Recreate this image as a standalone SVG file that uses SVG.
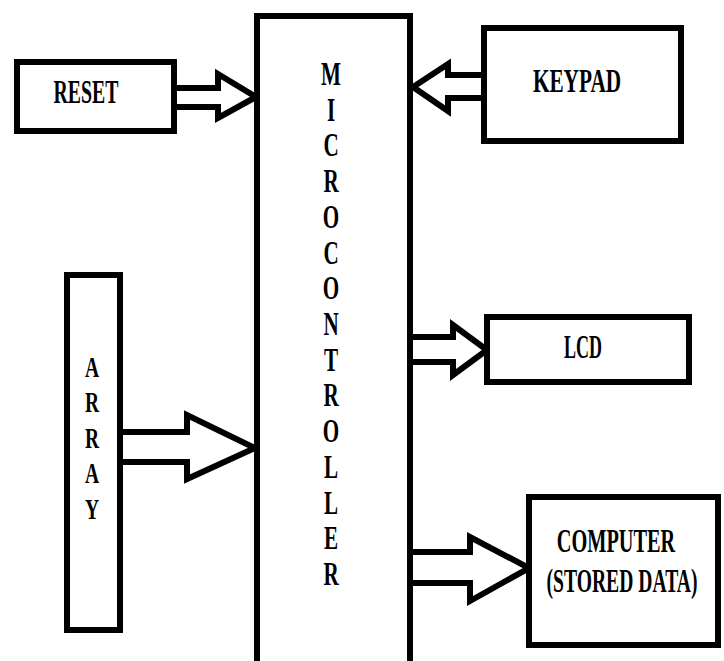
<svg xmlns="http://www.w3.org/2000/svg" width="724" height="661" viewBox="0 0 724 661">
<style>
.box{fill:#fff;stroke:#000;stroke-width:6}
.arr{fill:#fff;stroke:#000;stroke-width:6;stroke-linejoin:miter;stroke-miterlimit:10}
.t{font-family:'Liberation Serif','DejaVu Serif','Times New Roman',serif;font-weight:700;font-size:33px;fill:#000;text-anchor:middle}
.a{font-size:30px}
</style>
<rect width="724" height="661" fill="#fff"/>
<g id="connectors">
<polygon class="arr" points="170,88 218,88 218,74 256,97 218,118 218,107 170,107"/>
<polygon class="arr" points="490,75 448,75 448,64 413,87 448,111 448,98 490,98"/>
<polygon class="arr" points="115,432 187,432 187,415 255,448 187,479 187,462 115,462"/>
<polygon class="arr" points="405,337 453,337 453,325 487,350 453,375 453,362 405,362"/>
<polygon class="arr" points="405,552 470,552 470,537 529,568 470,601 470,583 405,583"/>
</g>
<g id="mcu">
<rect class="box" x="257" y="16" width="153" height="680"/>
<text class="t" transform="translate(331,85) scale(0.64,1)">M</text>
<text class="t" transform="translate(331,121) scale(0.64,1)">I</text>
<text class="t" transform="translate(331,156) scale(0.64,1)">C</text>
<text class="t" transform="translate(331,192) scale(0.64,1)">R</text>
<text class="t" transform="translate(331,228) scale(0.64,1)">O</text>
<text class="t" transform="translate(331,264) scale(0.64,1)">C</text>
<text class="t" transform="translate(331,299) scale(0.64,1)">O</text>
<text class="t" transform="translate(331,335) scale(0.64,1)">N</text>
<text class="t" transform="translate(331,371) scale(0.64,1)">T</text>
<text class="t" transform="translate(331,406) scale(0.64,1)">R</text>
<text class="t" transform="translate(331,442) scale(0.64,1)">O</text>
<text class="t" transform="translate(331,478) scale(0.64,1)">L</text>
<text class="t" transform="translate(331,514) scale(0.64,1)">L</text>
<text class="t" transform="translate(331,549) scale(0.64,1)">E</text>
<text class="t" transform="translate(331,585) scale(0.64,1)">R</text>
</g>
<g id="reset">
<rect class="box" x="17" y="62" width="157" height="69"/>
<text class="t" transform="translate(86,103) scale(0.6,1)">RESET</text>
</g>
<g id="keypad">
<rect class="box" x="484" y="28" width="197" height="113"/>
<text class="t" transform="translate(577,92) scale(0.645,1)">KEYPAD</text>
</g>
<g id="array">
<rect class="box" x="67" y="275" width="53" height="355"/>
<text class="t a" transform="translate(92,377) scale(0.65,1)">A</text>
<text class="t a" transform="translate(92,412) scale(0.65,1)">R</text>
<text class="t a" transform="translate(92,448) scale(0.65,1)">R</text>
<text class="t a" transform="translate(92,483) scale(0.65,1)">A</text>
<text class="t a" transform="translate(92,519) scale(0.65,1)">Y</text>
</g>
<g id="lcd">
<rect class="box" x="487" y="317" width="202" height="65"/>
<text class="t" transform="translate(583,358) scale(0.545,1)">LCD</text>
</g>
<g id="computer">
<rect class="box" x="529" y="497" width="189" height="148"/>
<text class="t" transform="translate(616,552) scale(0.615,1)">COMPUTER</text>
<text class="t" transform="translate(622,592) scale(0.595,1)">(STORED DATA)</text>
</g>
</svg>
